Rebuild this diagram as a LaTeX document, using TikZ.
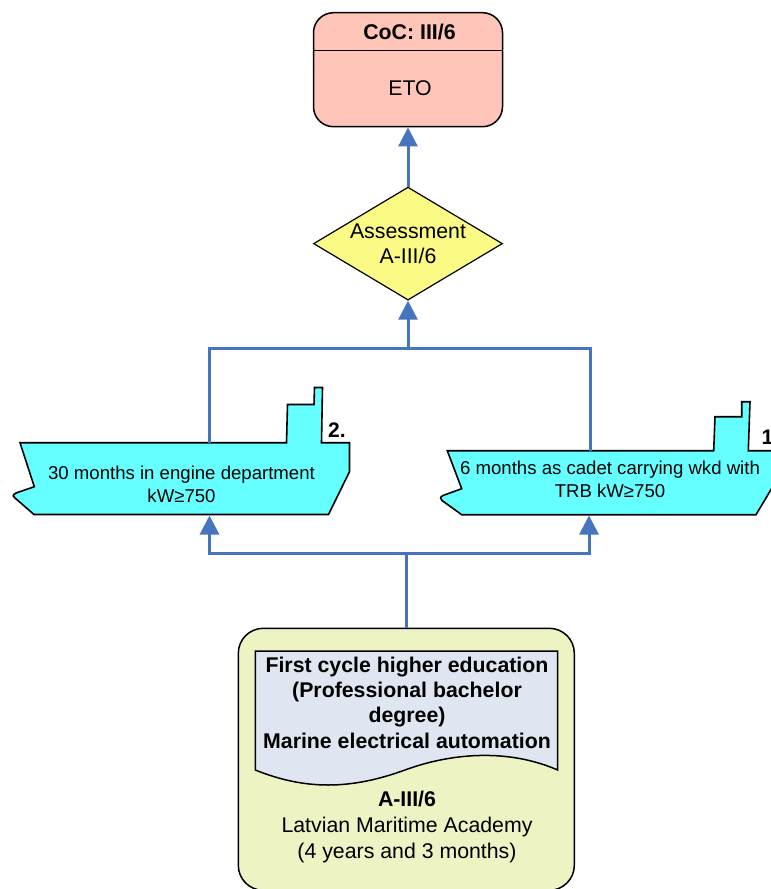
\documentclass[tikz,border=0pt]{standalone}
\usepackage{fontspec}
\setmainfont{Liberation Sans}
\usetikzlibrary{positioning, arrows.meta, shapes.geometric}
\definecolor{linkb}{RGB}{70,117,190}
\definecolor{cocc}{RGB}{255,197,184}
\definecolor{assessc}{RGB}{250,250,133}
\definecolor{shipc}{RGB}{102,255,255}
\definecolor{acadc}{RGB}{237,243,195}
\definecolor{docc}{RGB}{224,230,241}

\begin{document}
\begin{tikzpicture}[x=1pt, y=-1pt,
            cocn/.style={rectangle, draw, fill=cocc, line width=1.5pt, rounded corners=20pt, minimum width=189pt, minimum height=114pt},
            asn/.style={diamond, shape aspect=1.67, draw, fill=assessc, line width=1.2pt, inner sep=0pt, minimum width=189pt, minimum height=113pt, align=center, font=\fontsize{21.3}{25}\selectfont},
            acn/.style={rectangle, draw, fill=acadc, line width=1.5pt, rounded corners=25pt, minimum width=336pt, minimum height=262pt},
            shp/.style={draw, fill=shipc, line width=1.6pt},
            dc/.style={draw, fill=docc, line width=1.5pt},
            big/.style={align=center, font=\fontsize{21.3}{26}\selectfont},
            bigb/.style={align=center, font=\fontsize{21.3}{25.3}\bfseries\selectfont},
            small/.style={align=center, font=\fontsize{18.6}{23}\selectfont},
            numb/.style={font=\fontsize{21}{25}\bfseries\selectfont},
            lnk/.style={draw=linkb, line width=3pt},
            ->/.style={-{Triangle[width=19pt, length=19pt]}, draw=linkb, line width=3pt}]
  \useasboundingbox (0,0) rectangle (771,889);

  % top box and assessment
  \node[cocn] (coc) at (408,69.7) {};
  \draw[line width=1.2pt] (coc.west |- 0,50.7) to (coc.east |- 0,50.7);
  \node[bigb] (coctitle) at (409.5,31.5) {CoC: III/6};
  \node[big] (eto) at (410,88.5) {ETO};
  \node[asn] (assess) at (408,243.6) {Assessment\\A-III/6};

  % ships
  \draw[shp] (20,442.7) -- (34.3,486.7) -- (16,493) .. controls (12,495) and (13,497) .. (15,498) -- (34,514.5)
    -- (328.5,514.5) -- (349.5,471.7) -- (349.5,442.7) -- (321.5,442.7) -- (322.5,387.5) -- (314.5,387.5)
    -- (314,404.5) -- (287.5,404.5) -- (286.5,442.7) -- cycle;
  \draw[shp] (447.3,450.7) -- (461.7,488.7) -- (443,495.5) .. controls (439.5,497) and (440.5,499) .. (442,500.5) -- (461.7,514.7)
    -- (756,514.7) -- (776.7,480) -- (776.7,450.7) -- (748.3,450.7) -- (750,401.7) -- (741.7,401.7)
    -- (741.7,416.7) -- (715,416.7) -- (713.7,450.7) -- cycle;
  \node[small] (ship2) at (181.5,484.5) {30 months in engine department\\kW≥750};
  \node[small] (ship1) at (610,479.5) {6 months as cadet carrying wkd with\\TRB kW≥750};
  \node[numb] (num2) at (337,430) {2.};
  \node[numb, anchor=west] (num1) at (758,437) {1.};

  % academy
  \node[acn] (acad) at (406.3,759.3) {};
  \draw[dc] (255.3,651) -- (557.7,651) -- (557.7,770) .. controls (500,745) and (440,757) .. (405,770)
    .. controls (350,790) and (305,790) .. (255.3,770) -- cycle;
  \node[bigb] (doctext) at (407,702.5) {First cycle higher education\\(Professional bachelor\\degree)\\Marine electrical automation};
  \node[big] (actext) at (407,826.5) {\textbf{A-III/6}\\Latvian Maritime Academy\\(4 years and 3 months)};

  % connectors
  \coordinate (topl) at (209.5,442.7);
  \coordinate (topr) at (590,450.7);
  \coordinate (upj) at (408,348.7);
  \coordinate (lowj) at (406.5,553);
  \coordinate (arrl) at (209.5,515.5);
  \coordinate (arrr) at (589,515.5);
  \draw[lnk] (topl) |- (upj);
  \draw[lnk] (topr) |- (upj);
  \draw[->] (upj) to (assess.south);
  \draw[->] (assess.north) to (coc.south);
  \draw[lnk] (acad.north -| lowj) to (lowj);
  \draw[->] (lowj) -| (arrl);
  \draw[->] (lowj) -| (arrr);
\end{tikzpicture}
\end{document}
